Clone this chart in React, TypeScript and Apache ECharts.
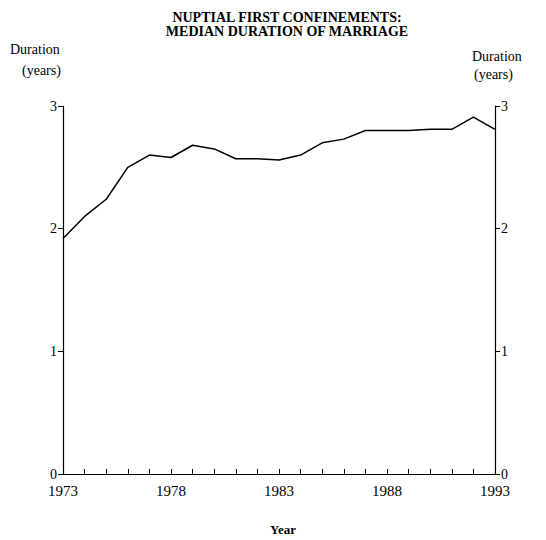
import React, { useEffect, useRef } from "react";
import * as echarts from "echarts";

const years = [1973,1974,1975,1976,1977,1978,1979,1980,1981,1982,1983,1984,1985,1986,1987,1988,1989,1990,1991,1992,1993];
const duration = [1.92,2.1,2.24,2.5,2.6,2.58,2.68,2.65,2.57,2.57,2.56,2.6,2.7,2.73,2.8,2.8,2.8,2.81,2.81,2.91,2.81];
const yTicks = [0, 1, 2, 3];
const titleLines = ["NUPTIAL FIRST CONFINEMENTS:", "MEDIAN DURATION OF MARRIAGE"];

const FONT = "'Liberation Serif', 'DejaVu Serif', serif";

export default function App() {
  const ref = useRef<HTMLDivElement>(null);
  useEffect(() => {
    if (!ref.current) return;
    const chart = echarts.init(ref.current, undefined, { renderer: "svg" });
    const axisCommon = {
      type: "value" as const,
      min: yTicks[0],
      max: yTicks[yTicks.length - 1],
      interval: 1,
      axisLine: { show: true, lineStyle: { color: "#000", width: 1.2 } },
      axisTick: { show: true, length: 5, lineStyle: { color: "#000", width: 1 } },
      splitLine: { show: false },
      axisLabel: { color: "#000", fontFamily: FONT, fontSize: 14, margin: 6 },
    };
    chart.setOption({
      animation: false,
      backgroundColor: "#fff",
      title: {
        text: titleLines.join("\n"),
        left: 282,
        textAlign: "center",
        top: 5,
        textStyle: { fontFamily: FONT, fontSize: 14, fontWeight: "bold", color: "#000", lineHeight: 14 },
      },
      grid: { left: 63, right: 51, top: 106, bottom: 66 },
      xAxis: {
        type: "value",
        min: years[0],
        max: years[years.length - 1],
        interval: 1,
        axisLine: { show: true, lineStyle: { color: "#000", width: 1.2 } },
        axisTick: { show: true, inside: true, length: 5, lineStyle: { color: "#000", width: 1 } },
        splitLine: { show: false },
        axisLabel: {
          color: "#000",
          fontFamily: FONT,
          fontSize: 15,
          margin: 9,
          formatter: (v: number) => ((v - years[0]) % 5 === 0 ? String(v) : ""),
        },
      },
      yAxis: [
        { ...axisCommon, position: "left" },
        { ...axisCommon, position: "right" },
      ],
      graphic: [
        { type: "text", left: 10, top: 42, style: { text: "Duration", font: `14px ${FONT}`, fill: "#000" } },
        { type: "text", left: 22, top: 63, style: { text: "(years)", font: `14px ${FONT}`, fill: "#000" } },
        { type: "text", left: 472, top: 49, style: { text: "Duration", font: `14px ${FONT}`, fill: "#000" } },
        { type: "text", left: 474, top: 67, style: { text: "(years)", font: `14px ${FONT}`, fill: "#000" } },
        { type: "text", left: 270, top: 523, style: { text: "Year", font: `bold 13px ${FONT}`, fill: "#000" } },
      ],
      series: [
        {
          type: "line",
          data: years.map((y, i) => [y, duration[i]]),
          showSymbol: false,
          lineStyle: { color: "#000", width: 1.5 },
          yAxisIndex: 0,
        },
      ],
    });
    return () => chart.dispose();
  }, []);
  return <div ref={ref} style={{ width: 546, height: 540, position: "absolute", left: 0, top: 0 }} />;
}
